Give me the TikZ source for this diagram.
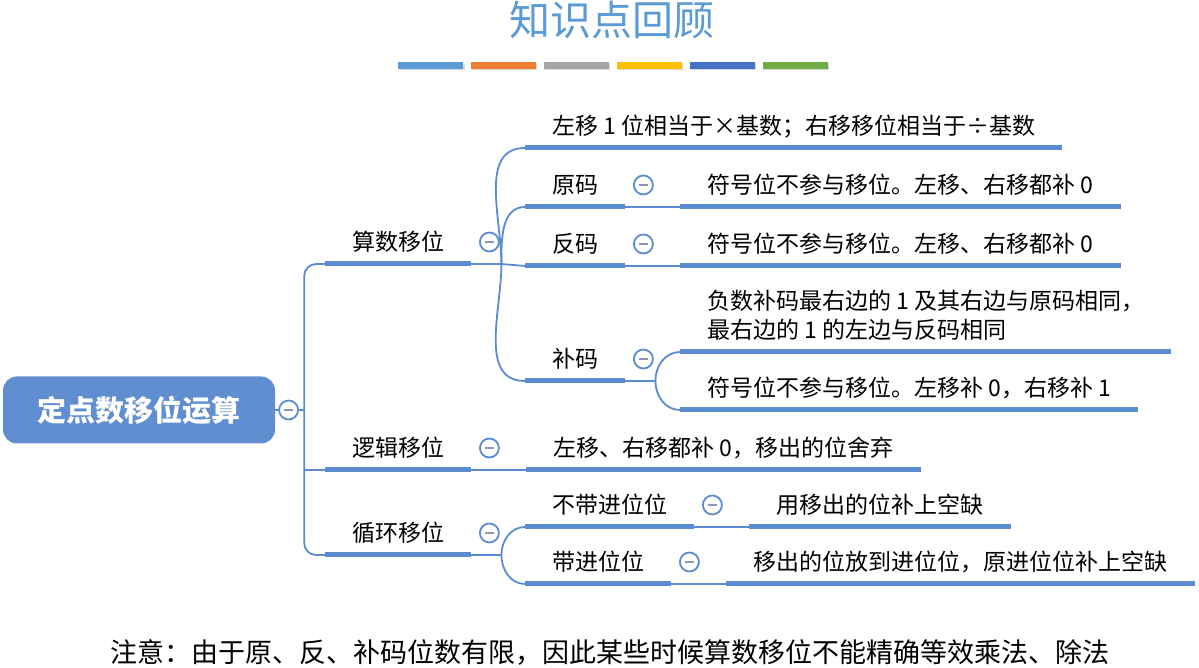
\documentclass[tikz,border=0pt]{standalone}
\usepackage{fontspec}
\setmainfont{Noto Sans CJK SC}
\usepackage{tikz}
\usetikzlibrary{positioning, calc}
\definecolor{mmblue}{RGB}{91,139,209}
\definecolor{rootblue}{RGB}{97,142,209}
\definecolor{titleblue}{RGB}{91,155,213}
\definecolor{foldgray}{RGB}{140,150,185}
\definecolor{barA}{RGB}{91,155,213}
\definecolor{barB}{RGB}{237,125,49}
\definecolor{barC}{RGB}{165,165,165}
\definecolor{barD}{RGB}{255,192,0}
\definecolor{barE}{RGB}{68,114,196}
\definecolor{barF}{RGB}{112,173,71}
\tikzstyle{topic} = [anchor=south west,
inner xsep=27pt, inner ysep=8pt, text depth=5pt,
align=left, font=\fontsize{23}{29}\selectfont]
\tikzstyle{rootbox} = [rectangle, rounded corners=14pt,
fill=rootblue, text=white,
minimum width=272pt, minimum height=67pt,
font=\fontsize{29}{34}\selectfont\bfseries]
\tikzstyle{fold} = [circle, draw=mmblue, line width=1.8pt,
fill=white, minimum size=19pt, inner sep=0pt,
path picture={\draw[foldgray, line width=2pt]
  ([xshift=-4.5pt]path picture bounding box.center) --
  ([xshift=4.5pt]path picture bounding box.center);}]
\tikzstyle{conn} = [draw=mmblue, line width=1.8pt]
\tikzstyle{uline} = [draw=mmblue, line width=5pt]

\begin{document}
\begin{tikzpicture}[x=1pt, y=1pt]
	\useasboundingbox (0,0) rectangle (1199,668);
	%% Title and colour bars
	\node[font=\fontsize{41}{44}\selectfont, text=titleblue] (title) at (612,648) {知识点回顾};
	\foreach \c [count=\i from 0] in {barA,barB,barC,barD,barE,barF} {
		\fill[black!15] (399.5+72.9*\i, 597.5) rectangle ++(65,6.5);
		\fill[\c] (398+72.9*\i, 599) rectangle ++(65,6.5);
	}
	%% Root and first level
	\node[rootbox] (root) at (139,258) {定点数移位运算};
	\node[topic] (suanshu) at (325,404) {算数移位};
	\node[topic] (luoji) at (325,198) {逻辑移位};
	\node[topic] (xunhuan) at (325,113) {循环移位};
	%% Arithmetic shift
	\node[topic] (zuoyi) at (525,520) {左移 1 位相当于×基数；右移移位相当于÷基数};
	\node[topic] (yuan) at (525,461) {原码};
	\node[topic] (fan) at (525,402) {反码};
	\node[topic] (bu) at (525,287) {补码};
	\node[topic, right=55pt of yuan.south east, anchor=south west] (textYuan) {符号位不参与移位。左移、右移都补 0};
	\node[topic, right=55pt of fan.south east, anchor=south west] (textFan) {符号位不参与移位。左移、右移都补 0};
	\node[topic] (textBuA) at (680,316) {负数补码最右边的 1 及其右边与原码相同，\\最右边的 1 的左边与反码相同};
	\node[topic] (textBuB) at (680,258) {符号位不参与移位。左移补 0，右移补 1};
	%% Logical shift
	\node[topic, right=55pt of luoji.south east, anchor=south west] (textLuoji) {左移、右移都补 0，移出的位舍弃};
	%% Rotate
	\node[topic] (buDai) at (525,141) {不带进位位};
	\node[topic] (dai) at (525,84) {带进位位};
	\node[topic, right=55pt of buDai.south east, anchor=south west] (textBuDai) {用移出的位补上空缺};
	\node[topic, right=55pt of dai.south east, anchor=south west] (textDai) {移出的位放到进位位，原进位位补上空缺};
	%% Root to first level
	\draw[conn] (root.east) -- ++(29,0) coordinate (trunk);
	\draw[conn, rounded corners=12pt] (trunk) |- (suanshu.south west);
	\draw[conn, rounded corners=12pt] (trunk) |- (xunhuan.south west);
	\draw[conn] (trunk |- luoji.south west) -- (luoji.south west);
	%% First level to children
	\draw[conn] (suanshu.south east) -- ++(30,0) coordinate (jSuanshu);
	\draw[conn] (jSuanshu) to[out=90, in=180] (zuoyi.south west);
	\draw[conn] (jSuanshu) to[out=90, in=180] (yuan.south west);
	\draw[conn] (jSuanshu) -- (fan.south west);
	\draw[conn] (jSuanshu) to[out=-90, in=180] (bu.south west);
	\draw[conn] (bu.south east) -- ++(30,0) coordinate (jBu);
	\draw[conn] (jBu) to[out=90, in=180] (textBuA.south west);
	\draw[conn] (jBu) to[out=-90, in=180] (textBuB.south west);
	\draw[conn] (xunhuan.south east) -- ++(30,0) coordinate (jXunhuan);
	\draw[conn] (jXunhuan) to[out=90, in=180] (buDai.south west);
	\draw[conn] (jXunhuan) to[out=-90, in=180] (dai.south west);
	\draw[conn] (yuan.south east) -- (textYuan.south west);
	\draw[conn] (fan.south east) -- (textFan.south west);
	\draw[conn] (luoji.south east) -- (textLuoji.south west);
	\draw[conn] (buDai.south east) -- (textBuDai.south west);
	\draw[conn] (dai.south east) -- (textDai.south west);
	%% Underlines
	\foreach \n in {suanshu, luoji, xunhuan, zuoyi, yuan, fan, bu, textYuan, textFan,
		textBuA, textBuB, textLuoji, buDai, dai, textBuDai, textDai}
		\draw[uline] (\n.south west) -- (\n.south east);
	%% Fold buttons
	\node[fold, right=3pt of root] (foldRoot) {};
	\foreach \n in {suanshu, luoji, xunhuan, yuan, fan, bu, buDai, dai}
		\node[fold] (fold-\n) at ([shift={(18,22)}]\n.south east) {};
	%% Note
	\node[font=\fontsize{27}{30}\selectfont] (note) at (610,16) {注意：由于原、反、补码位数有限，因此某些时候算数移位不能精确等效乘法、除法};
\end{tikzpicture}
\end{document}
